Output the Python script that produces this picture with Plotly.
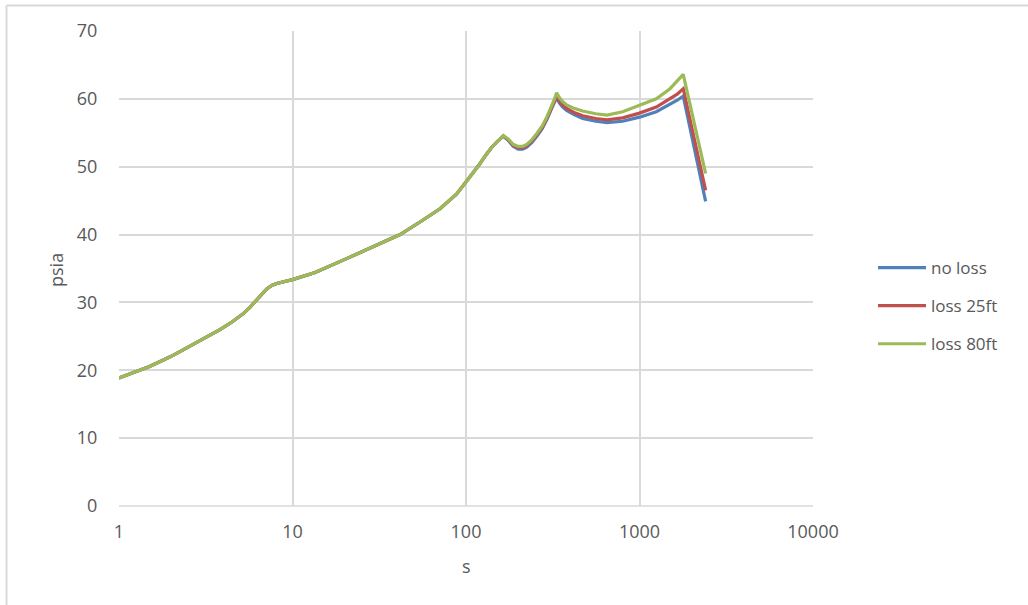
import plotly.graph_objects as go

# Time (s) and absolute pressure (psia) for three friction-loss cases
s = [1, 1.5, 2, 2.5, 2.93, 3.82, 4.5, 5.21, 5.7, 6.22, 6.7, 7.1, 7.6, 8.1, 10,
     13.5, 20.5, 31.9, 41.7, 54.3, 70.8, 88.4, 100, 110, 120, 130, 140, 150,
     164, 175, 187, 200, 212, 224, 240, 256, 275, 292, 305, 318, 333,
     345, 360, 380, 420, 470, 560, 650, 800, 1000, 1250, 1500, 1650, 1787, 2405]

psia_no_loss = [18.86, 20.55, 22.06, 23.4, 24.4, 26.0, 27.15, 28.35, 29.3, 30.4,
                31.3, 32.0, 32.5, 32.8, 33.36,
                34.4, 36.45, 38.67, 40.0, 41.85, 43.8, 46.0, 47.75, 49.1, 50.4,
                51.7, 52.8, 53.6,
                54.5, 53.9, 53.0, 52.6, 52.6, 52.9, 53.6, 54.5, 55.6, 56.9, 57.9,
                59.1, 60.2,
                59.4, 58.8, 58.3, 57.7, 57.1, 56.7, 56.5, 56.7, 57.3, 58.1, 59.2,
                59.8, 60.4, 44.9]

psia_loss_25ft = [18.86, 20.55, 22.06, 23.4, 24.4, 26.0, 27.15, 28.35, 29.3, 30.4,
                  31.3, 32.0, 32.5, 32.8, 33.36,
                  34.4, 36.45, 38.67, 40.0, 41.85, 43.8, 46.0, 47.75, 49.1, 50.4,
                  51.7, 52.8, 53.6,
                  54.55, 54.0, 53.1, 52.8, 52.8, 53.1, 53.8, 54.7, 55.8, 57.1,
                  58.1, 59.2, 60.5,
                  59.7, 59.1, 58.6, 58.0, 57.5, 57.1, 56.9, 57.2, 57.9, 58.8, 60.0,
                  60.7, 61.5, 46.5]

psia_loss_80ft = [18.86, 20.55, 22.06, 23.4, 24.4, 26.0, 27.15, 28.35, 29.3, 30.4,
                  31.3, 32.0, 32.5, 32.8, 33.36,
                  34.4, 36.45, 38.67, 40.0, 41.85, 43.8, 46.0, 47.75, 49.1, 50.4,
                  51.7, 52.8, 53.6,
                  54.6, 54.1, 53.3, 53.0, 53.0, 53.3, 54.0, 54.9, 56.0, 57.3,
                  58.3, 59.5, 60.9,
                  60.2, 59.6, 59.1, 58.6, 58.2, 57.8, 57.6, 58.1, 59.0, 60.0, 61.5,
                  62.6, 63.6, 49.0]

series = [
    ("no loss", psia_no_loss, "#4f81bd"),
    ("loss 25ft", psia_loss_25ft, "#c0504d"),
    ("loss 80ft", psia_loss_80ft, "#9bbb59"),
]

x_ticks = [1, 10, 100, 1000, 10000]
x_tick_text = ["1", "10", "100", "1000", "10000"]
y_ticks = [0, 10, 20, 30, 40, 50, 60, 70]

FONT = "Open Sans"
TEXT = "#595959"
GRID = "#d9d9d9"

fig = go.Figure()
for name, vals, color in series:
    fig.add_trace(go.Scatter(
        x=s, y=vals, mode="lines", name=name, legendgroup=name,
        line=dict(color=color, width=3.2),
    ))

W, H = 1028, 605
L, R, T, B = 119, 215, 31, 99
pw, ph = W - L - R, H - T - B


def px_x(v):
    return (v - L) / pw


def px_y(v):
    return (H - B - v) / ph


fig.update_layout(
    width=W, height=H,
    margin=dict(l=L, r=R, t=T, b=B, pad=0),
    paper_bgcolor="white", plot_bgcolor="white",
    font=dict(family=FONT, size=18, color=TEXT),
    showlegend=True,
    legend=dict(
        x=px_x(873), xanchor="left", y=px_y(250), yanchor="top",
        tracegroupgap=13, font=dict(size=17, color=TEXT),
        bgcolor="rgba(0,0,0,0)", itemwidth=48,
    ),
    xaxis=dict(
        type="log", range=[0, 4],
        tickvals=x_ticks, ticktext=x_tick_text,
        showgrid=True, gridcolor=GRID, gridwidth=1.5,
        zeroline=False, showline=False,
        ticks="outside", ticklen=9, tickcolor="rgba(0,0,0,0)",
        tickfont=dict(size=18, color=TEXT),
    ),
    yaxis=dict(
        range=[0, 70], tickvals=y_ticks,
        showgrid=True, gridcolor=GRID, gridwidth=1.5,
        zeroline=False, showline=False,
        ticks="outside", ticklen=17, tickcolor="rgba(0,0,0,0)",
        tickfont=dict(size=18, color=TEXT),
    ),
    annotations=[
        dict(text="psia", xref="paper", yref="paper", x=px_x(56), y=px_y(270),
             xanchor="center", yanchor="middle",
             showarrow=False, textangle=-90, font=dict(size=18, color=TEXT)),
        dict(text="s", xref="paper", yref="paper", x=px_x(466), y=px_y(566),
             xanchor="center", yanchor="middle",
             showarrow=False, font=dict(size=18, color=TEXT)),
    ],
    shapes=[
        # frame edges around the chart area
        dict(type="line", xref="paper", yref="paper",
             x0=px_x(6.5), x1=px_x(W), y0=px_y(5.5), y1=px_y(5.5),
             line=dict(color=GRID, width=2)),
        dict(type="line", xref="paper", yref="paper",
             x0=px_x(6.5), x1=px_x(6.5), y0=px_y(5.5), y1=px_y(H),
             line=dict(color=GRID, width=2)),
        # bottom axis line
        dict(type="line", xref="paper", yref="paper",
             x0=0, x1=1, y0=0, y1=0, line=dict(color=GRID, width=1.5)),
    ],
)

fig.write_html("out.html")
